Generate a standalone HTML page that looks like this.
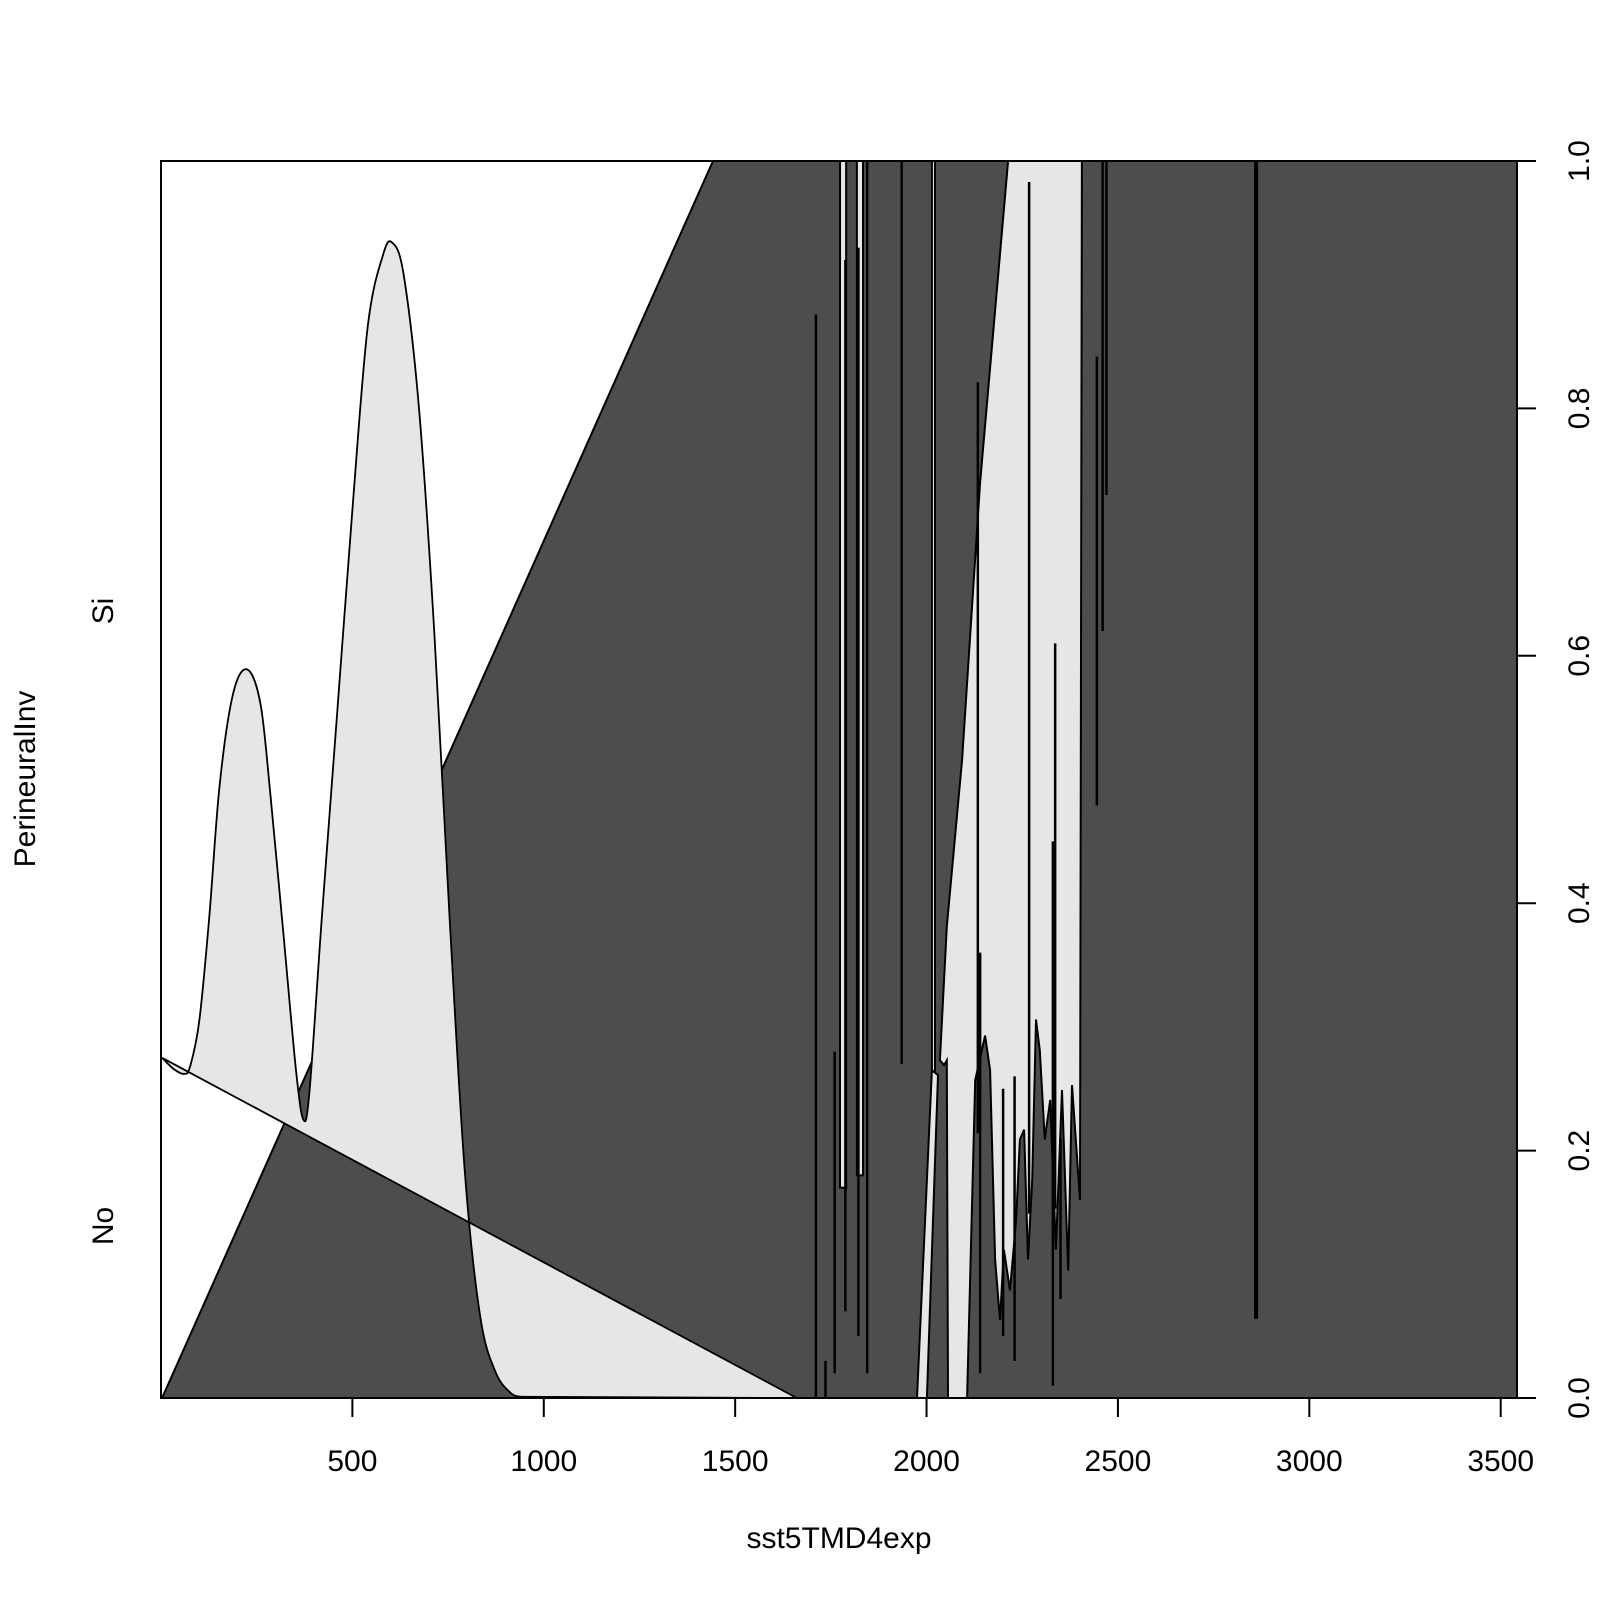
<!DOCTYPE html>
<html><head><meta charset="utf-8"><style>
html,body{margin:0;padding:0;background:#fff;}
svg{display:block;font-family:"Liberation Sans",Arial,sans-serif;}
</style></head><body>
<svg id="chart" width="1600" height="1600" viewBox="0 0 1600 1600" xmlns="http://www.w3.org/2000/svg">
<rect width="1600" height="1600" fill="#fff"/>
<g id="plot"></g>
<g id="axes"></g>
</svg>
<script>
// ---- data (x in sst5TMD4exp units, y in conditional probability) ----
const xTicks = [500, 1000, 1500, 2000, 2500, 3000, 3500];
const yTicks = [0.0, 0.2, 0.4, 0.6, 0.8, 1.0];
const yTickLabels = ["0.0", "0.2", "0.4", "0.6", "0.8", "1.0"];
const levelLabels = ["No", "Si"];
// dark region boundary (rising edge)
const darkEdgeX = [3, 1442];
const darkEdgeY = [0, 1];
// bimodal light curve
const curveX = [3,33,60,76,100,126,153,188,225,260,286,321,353,372,388,420,460,500,540,580,604,634,674,714,754,794,834,874,914,940];
const curveY = [0.275,0.266,0.262,0.268,0.305,0.388,0.495,0.569,0.589,0.561,0.487,0.371,0.264,0.225,0.248,0.388,0.553,0.718,0.866,0.924,0.934,0.908,0.800,0.619,0.388,0.182,0.066,0.021,0.004,0.001];
// diagonal line
const diagX = [1661, 3];
const diagY = [0, 0.275];
// big light region on right
const lightX = [2213,2406,2401,2380,2370,2354,2338,2323,2309,2296,2286,2276,2265,2255,2244,2234,2218,2202,2192,2179,2166,2153,2127,2106,2056,2053,2046,2035,2053,2093,2140];
const lightY = [1,1,0.160,0.253,0.103,0.249,0.120,0.241,0.209,0.281,0.306,0.176,0.112,0.217,0.209,0.144,0.087,0.120,0.063,0.112,0.265,0.293,0.257,0,0,0.273,0.269,0.273,0.381,0.516,0.740];
// slanted thin light strip
const stripX = [2014, 2030, 2001, 1975];
const stripY = [0.265, 0.261, 0, 0];
// vertical light stripes: x0, x1, top, bottom
const stripeX0 = [1774, 1818, 2014];
const stripeX1 = [1790, 1834, 2022];
const stripeTop = [1, 1, 1];
const stripeBot = [0.170, 0.180, 0.241];
// black vertical spikes: x, y0, y1
const spikeX = [1711, 1736, 1760, 1788, 1822, 1845, 1935, 2134, 2268, 2336, 2445, 2460, 2470, 2861, 2140, 2200, 2230, 2330, 2350];
const spikeY0 = [0, 0, 0.02, 0.07, 0.05, 0.02, 0.27, 0.214, 0.149, 0.153, 0.479, 0.62, 0.73, 0.064, 0.02, 0.05, 0.03, 0.01, 0.08];
const spikeY1 = [0.876, 0.03, 0.28, 0.92, 0.93, 1, 1, 0.821, 0.983, 0.61, 0.842, 1, 1, 1, 0.36, 0.25, 0.26, 0.45, 0.21];

// ---- scales ----
const X0 = 161, X1 = 1517, Y0 = 1398, Y1 = 161;
const sx = v => 161 + v * 0.38277;
const sy = p => Y0 - p * (Y0 - Y1);
const NS = "http://www.w3.org/2000/svg";
const plot = document.getElementById('plot');
const axes = document.getElementById('axes');
function mk(tag, attrs, parent) {
  const e = document.createElementNS(NS, tag);
  for (const k in attrs) e.setAttribute(k, attrs[k]);
  parent.appendChild(e);
  return e;
}
function pts(xs, ys) { return xs.map((x, i) => sx(x).toFixed(1) + "," + sy(ys[i]).toFixed(1)).join(" "); }
function smooth(xs, ys) {
  const P = xs.map((x, i) => [sx(x), sy(ys[i])]);
  let d = "M" + P[0][0].toFixed(1) + "," + P[0][1].toFixed(1);
  for (let i = 0; i < P.length - 1; i++) {
    const p0 = P[i - 1] || P[i], p1 = P[i], p2 = P[i + 1], p3 = P[i + 2] || P[i + 1];
    const c1 = [p1[0] + (p2[0] - p0[0]) / 6, p1[1] + (p2[1] - p0[1]) / 6];
    const c2 = [p2[0] - (p3[0] - p1[0]) / 6, p2[1] - (p3[1] - p1[1]) / 6];
    d += " C" + c1.map(v => v.toFixed(1)).join(",") + " " + c2.map(v => v.toFixed(1)).join(",") + " " + p2[0].toFixed(1) + "," + p2[1].toFixed(1);
  }
  return d;
}

const defs = mk('defs', {}, plot);
const cp = mk('clipPath', {id: 'clip'}, defs);
mk('rect', {x: X0, y: Y1, width: X1 - X0, height: Y0 - Y1}, cp);
const g = mk('g', {'clip-path': 'url(#clip)'}, plot);

const dark = mk('polygon', {points: pts(darkEdgeX.concat([3600, 3600]), darkEdgeY.concat([1, 0])), fill: '#4d4d4d', stroke: '#000', 'stroke-width': 2}, g);



let d = smooth(curveX, curveY);
diagX.forEach((x, i) => { d += " L" + sx(x).toFixed(1) + "," + sy(diagY[i]).toFixed(1); });
d += " Z";
const lc = mk('path', {d: d, fill: '#e6e6e6', stroke: '#000', 'stroke-width': 1.8, 'fill-rule': 'evenodd'}, g);



for (let i = 0; i < stripeX0.length; i++) {
  const r = mk('rect', {x: sx(stripeX0[i]), y: sy(stripeTop[i]), width: sx(stripeX1[i]) - sx(stripeX0[i]), height: sy(stripeBot[i]) - sy(stripeTop[i]), fill: '#e6e6e6', stroke: '#000', 'stroke-width': 2}, g);
  
  
}
const lr = mk('polygon', {points: pts(lightX, lightY), fill: '#e6e6e6', stroke: '#000', 'stroke-width': 2}, g);


const st = mk('polygon', {points: pts(stripX, stripY), fill: '#e6e6e6', stroke: '#000', 'stroke-width': 2}, g);



for (let i = 0; i < spikeX.length; i++) {
  const l = mk('line', {x1: sx(spikeX[i]), x2: sx(spikeX[i]), y1: sy(spikeY0[i]), y2: sy(spikeY1[i]), stroke: '#000', 'stroke-width': spikeX[i] === 2861 ? 4 : 2.5}, g);
  
  
}

const fr = mk('rect', {x: X0, y: Y1, width: X1 - X0, height: Y0 - Y1, fill: 'none', stroke: '#000', 'stroke-width': 2}, axes);



xTicks.forEach(t => {
  const l = mk('line', {x1: sx(t), x2: sx(t), y1: Y0, y2: Y0 + 19, stroke: '#000', 'stroke-width': 2}, axes);
  
  
  const tx = mk('text', {x: sx(t), y: 1471, 'text-anchor': 'middle', 'font-size': 30}, axes);
  tx.textContent = t;
  
  
});
yTicks.forEach((t, i) => {
  const l = mk('line', {x1: X1, x2: X1 + 19, y1: sy(t), y2: sy(t), stroke: '#000', 'stroke-width': 2}, axes);
  
  
  const tx = mk('text', {x: 0, y: 0, 'text-anchor': 'middle', 'font-size': 30, transform: `translate(1589,${sy(t)}) rotate(-90)`}, axes);
  tx.textContent = yTickLabels[i];
  
  
});
[[levelLabels[0], 1226], [levelLabels[1], 611]].forEach(([s, y]) => {
  const tx = mk('text', {x: 0, y: 0, 'text-anchor': 'middle', 'font-size': 30, transform: `translate(113,${y}) rotate(-90)`}, axes);
  tx.textContent = s;
  
  
});
const xt = mk('text', {x: 839, y: 1548, 'text-anchor': 'middle', 'font-size': 30}, axes);
xt.textContent = 'sst5TMD4exp';


const yt = mk('text', {x: 0, y: 0, 'text-anchor': 'middle', 'font-size': 30, transform: 'translate(35,779) rotate(-90)'}, axes);
yt.textContent = 'PerineuralInv';


</script>
</body></html>
